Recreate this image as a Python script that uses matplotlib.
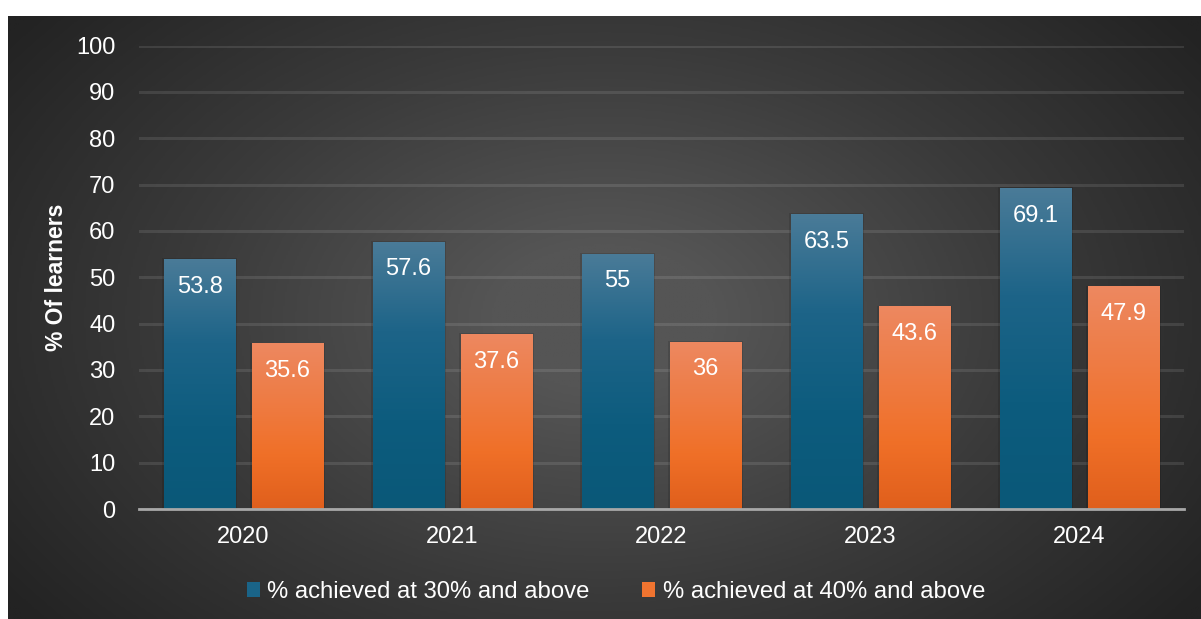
import numpy as np
import matplotlib.pyplot as plt
from matplotlib.colors import LinearSegmentedColormap
from matplotlib.patches import Rectangle

plt.rcParams['font.family'] = ['Liberation Sans', 'DejaVu Sans']

# data
years = ['2020', '2021', '2022', '2023', '2024']
pct_30 = [53.8, 57.6, 55, 63.5, 69.1]
pct_40 = [35.6, 37.6, 36, 43.6, 47.9]
labels_30 = ['53.8', '57.6', '55', '63.5', '69.1']
labels_40 = ['35.6', '37.6', '36', '43.6', '47.9']
series_names = ['% achieved at 30% and above', '% achieved at 40% and above']

W, H = 1201, 619
fig = plt.figure(figsize=(W / 100, H / 100), dpi=100)
fig.patch.set_facecolor('white')

# dark panel with a soft radial glow
bg = fig.add_axes([8 / W, 0, 1 - 8 / W, 1 - 16 / H])
bg.set_axis_off()
yy, xx = np.mgrid[0:1:300j, 0:1:600j]
r = np.sqrt(((xx - 0.5) / 0.62) ** 2 + ((yy - 0.5) / 0.8) ** 2)
shade = np.clip(1 - r, 0, 1)
bg_cmap = LinearSegmentedColormap.from_list('bg', ['#232323', '#3a3a3a', '#555555'])
bg.imshow(shade, cmap=bg_cmap, aspect='auto', extent=[0, 1, 0, 1], origin='lower',
          vmin=0, vmax=0.85, interpolation='bilinear')
bg.set_xlim(0, 1)
bg.set_ylim(0, 1)

ax = fig.add_axes([139 / W, 1 - 509 / H, (1184 - 139) / W, (509 - 45.5) / H])
ax.patch.set_alpha(0)

x = np.arange(len(years))
width = 0.34
off = 0.21

blue_cmap = LinearSegmentedColormap.from_list('b', ['#0a5878', '#0d5c7e', '#1d6488', '#4a7b98'])
orange_cmap = LinearSegmentedColormap.from_list('o', ['#e05f1c', '#f07028', '#ee7c45', '#ed8860'])

b1 = ax.bar(x - off, pct_30, width, color='#0d5e80', edgecolor='none', zorder=3)
b2 = ax.bar(x + off, pct_40, width, color='#f07028', edgecolor='none', zorder=3)

grad = np.linspace(0, 1, 256).reshape(-1, 1)
for bars, cmap in [(b1, blue_cmap), (b2, orange_cmap)]:
    for rect in bars:
        x0, y0 = rect.get_x(), rect.get_y()
        w, h = rect.get_width(), rect.get_height()
        # faint drop shadow
        ax.add_patch(Rectangle((x0 - 0.008, y0), w + 0.016, h + 0.3, facecolor='black',
                               alpha=0.12, edgecolor='none', zorder=2.5))
        ax.imshow(grad, cmap=cmap, aspect='auto', extent=[x0, x0 + w, y0, y0 + h],
                  origin='lower', zorder=3.1)
        rect.set_facecolor('none')

for i in range(len(years)):
    ax.text(x[i] - off, pct_30[i] - 5.8, labels_30[i], ha='center', va='center',
            color='white', fontsize=17, zorder=5)
    ax.text(x[i] + off, pct_40[i] - 5.8, labels_40[i], ha='center', va='center',
            color='white', fontsize=17, zorder=5)

ax.set_xlim(-0.5, len(years) - 0.5)
ax.set_ylim(0, 100)
ax.set_yticks(np.arange(0, 101, 10))
ax.set_xticks(x)
ax.set_xticklabels(years)
ax.yaxis.grid(True, color='white', alpha=0.1, linewidth=2.2, zorder=0)
ax.set_axisbelow(True)
ax.tick_params(axis='both', length=0, colors='white', labelsize=17)
ax.tick_params(axis='y', pad=17)
ax.tick_params(axis='x', pad=12)
for s in ['top', 'right', 'left']:
    ax.spines[s].set_visible(False)
ax.spines['bottom'].set_color('#a8a8a8')
ax.spines['bottom'].set_linewidth(2)
ax.spines['bottom'].set_zorder(6)

fig.text(57 / W, 1 - 277 / H, '% Of learners', rotation=90, ha='center', va='center',
         color='white', fontsize=16.5, fontweight='bold')

# legend
handles = [Rectangle((0, 0), 1, 1, facecolor='#1a6488'),
           Rectangle((0, 0), 1, 1, facecolor='#f07430')]
leg = fig.legend(handles, series_names, loc='center', bbox_to_anchor=(616 / W, 1 - 592 / H),
                 ncol=2, frameon=False, fontsize=17.2, labelcolor='white',
                 handlelength=0.55, handleheight=0.55, handletextpad=0.3,
                 columnspacing=2.2)

fig.savefig('out.png', dpi=100, facecolor=fig.get_facecolor())
